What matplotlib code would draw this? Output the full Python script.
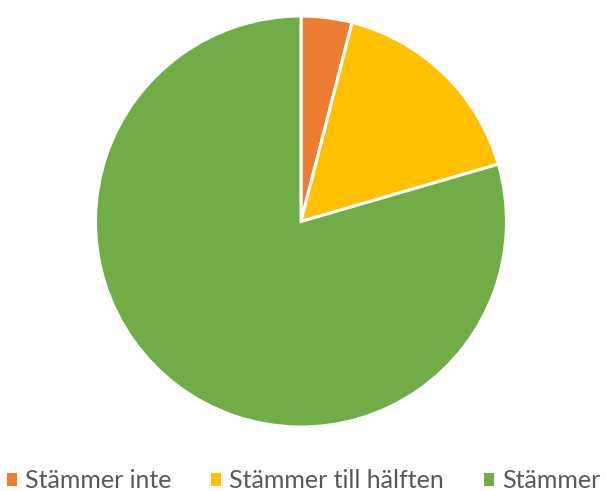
import matplotlib
matplotlib.use("Agg")
import matplotlib.pyplot as plt
from matplotlib.patches import Patch

categories = ["Stämmer inte", "Stämmer till hälften", "Stämmer"]
values = [4.0, 16.5, 79.5]
colors = ["#ED7D31", "#FFC000", "#70AD47"]

plt.rcParams['font.family'] = ['Lato', 'DejaVu Sans']

W, H = 606, 491
fig = plt.figure(figsize=(W / 100, H / 100), dpi=100)
cx, cy, r = 301, 221.5, 205.5
ax = fig.add_axes([(cx - r) / W, (H - cy - r) / H, 2 * r / W, 2 * r / H])
ax.pie(values, colors=colors, startangle=90, counterclock=False, radius=1,
       wedgeprops=dict(edgecolor="white", linewidth=2.2))
ax.set_xlim(-1, 1)
ax.set_ylim(-1, 1)
ax.set_aspect("equal")
ax.axis("off")

fs = 18
px = fs * 100 / 72
handles = [Patch(facecolor=c, edgecolor="none") for c in colors]
fig.legend(handles, categories, loc="center", bbox_to_anchor=(303.5 / W, 1 - 481 / H),
           ncol=3, frameon=False, fontsize=fs, handlelength=10 / px, handleheight=10 / px,
           handletextpad=8 / px, columnspacing=40 / px, labelcolor="#595959",
           borderaxespad=0, borderpad=0)

fig.savefig("out.png", dpi=100)
